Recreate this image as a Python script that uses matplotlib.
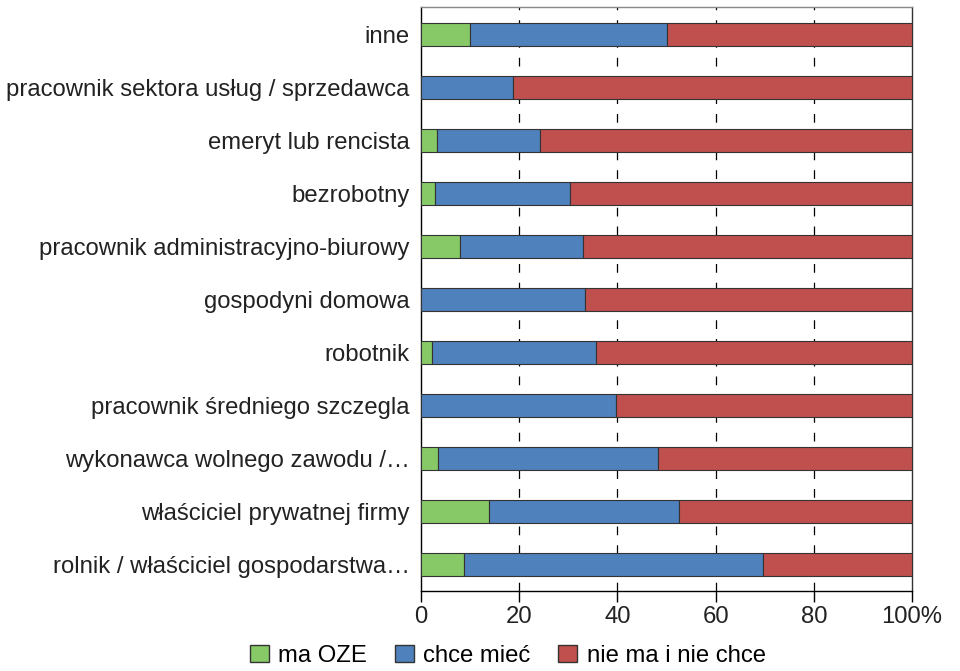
import numpy as np
import matplotlib.pyplot as plt
from matplotlib.patches import Patch

plt.rcParams['font.family'] = ['Liberation Sans', 'DejaVu Sans']

# kategorie (od dołu do góry)
kategorie = ['rolnik / właściciel gospodarstwa…',
             'właściciel prywatnej firmy',
             'wykonawca wolnego zawodu /…',
             'pracownik średniego szczegla',
             'robotnik',
             'gospodyni domowa',
             'pracownik administracyjno-biurowy',
             'bezrobotny',
             'emeryt lub rencista',
             'pracownik sektora usług / sprzedawca',
             'inne']
ma_oze = [8.8, 13.8, 3.5, 0, 2.2, 0, 7.9, 2.9, 3.3, 0, 10.0]
chce_miec = [60.9, 38.7, 44.8, 39.7, 33.4, 33.4, 25.1, 27.4, 20.9, 18.7, 40.1]
nie_chce = [100 - a - b for a, b in zip(ma_oze, chce_miec)]

kolory = ['#86c966', '#4f81bd', '#c0504d']
nazwy = ['ma OZE', 'chce mieć', 'nie ma i nie chce']

fig = plt.figure(figsize=(9.6, 6.71), dpi=100)
ax = fig.add_axes([0.4385, 0.119, 0.5115, 0.8703])

y = np.arange(len(kategorie))
lewo = np.zeros(len(kategorie))
for wart, kol in zip([ma_oze, chce_miec, nie_chce], kolory):
    ax.barh(y, wart, left=lewo, height=0.43, color=kol,
            edgecolor='#333333', linewidth=0.8, zorder=3)
    lewo = lewo + np.array(wart)

for x in [20, 40, 60, 80]:
    ax.axvline(x, color='black', linestyle=(0, (7, 8)), linewidth=0.9, zorder=1)

ax.set_xlim(0, 100)
ax.set_ylim(-0.51, 10.513)
ax.set_yticks(y)
ax.set_yticklabels(kategorie, fontsize=17.2, color='#222222')
ax.set_xticks([0, 20, 40, 60, 80, 100])
ax.set_xticklabels(['0', '20', '40', '60', '80', '100%'], fontsize=17.2, color='#222222')
ax.tick_params(axis='y', length=0, pad=8)
ax.tick_params(axis='x', length=8, width=1, direction='out', pad=3)
ax.spines['top'].set_color('#888888')
ax.spines['right'].set_color('#333333')
for s in ax.spines.values():
    s.set_linewidth(1)

uchwyty = [Patch(facecolor=k, edgecolor='#333333', label=n) for k, n in zip(kolory, nazwy)]
fig.legend(handles=uchwyty, loc='lower center', bbox_to_anchor=(0.529, -0.026), ncol=3,
           frameon=False, fontsize=17.2, handlelength=0.8, handleheight=0.7,
           columnspacing=1.15, handletextpad=0.4)

fig.savefig('out.png', dpi=100)
